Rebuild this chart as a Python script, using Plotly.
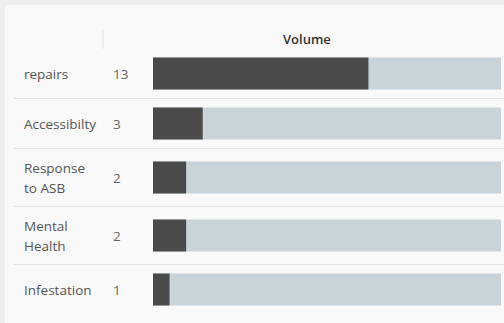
import plotly.graph_objects as go

# ---- data ----
categories = ["repairs", "Accessibilty", "Response<br>to ASB", "Mental<br>Health", "Infestation"]
volumes = [13, 3, 2, 2, 1]
track_total = 21
header = "Volume"

# ---- layout helpers (pixels) ----
W, H = 504, 323
plot_left, plot_right = 153, 501
plot_top, plot_bottom = 48, 316
pw = plot_right - plot_left
ph = plot_bottom - plot_top
line_gap = 20

def px_x(x):
    return (x - plot_left) / pw

def px_y(y):
    return 1 - (y - plot_top) / ph

row_h = [58 if "<br>" in c else 50 for c in categories]
centers, bounds = [], []
acc = 0.5
for h in row_h:
    centers.append(acc + h / 2)
    acc += h
    bounds.append(acc)

dark = "#4a4a4a"
light = "#c9d3da"
font = "Open Sans"

fig = go.Figure()
fig.add_trace(go.Bar(x=[track_total] * len(categories), y=centers, orientation="h",
                     width=32, marker=dict(color=light, line=dict(width=0)), hoverinfo="skip"))
fig.add_trace(go.Bar(x=volumes, y=centers, orientation="h",
                     width=32, marker=dict(color=dark, line=dict(width=0)), hoverinfo="skip"))

shapes = [
    dict(type="rect", xref="paper", yref="paper", x0=px_x(5), x1=px_x(510), y0=px_y(5), y1=px_y(330),
         fillcolor="#f9f9f9", line=dict(width=0), layer="below"),
    dict(type="line", xref="paper", yref="paper", x0=px_x(103), x1=px_x(103), y0=px_y(30), y1=px_y(49),
         line=dict(color="#e6e6e6", width=1)),
]
for b in bounds[:-1]:
    shapes.append(dict(type="line", xref="paper", yref="y", x0=px_x(14), x1=px_x(505), y0=b, y1=b,
                       line=dict(color="#e3e3e3", width=1), layer="below"))

annotations = [dict(text=header, xref="paper", yref="paper", x=px_x(307), y=px_y(39),
                    xanchor="center", yanchor="middle", showarrow=False,
                    font=dict(family=font, size=13, color="#333333", weight=600))]
for c, v, yc in zip(categories, volumes, centers):
    lines = c.split("<br>")
    n = len(lines)
    for i, ln in enumerate(lines):
        annotations.append(dict(text=ln, xref="paper", yref="y", x=px_x(22),
                                y=yc + (i - (n - 1) / 2) * line_gap, xanchor="left",
                                yanchor="middle", align="left", showarrow=False,
                                font=dict(family=font, size=13.5, color="#555555")))
    annotations.append(dict(text=str(v), xref="paper", yref="y", x=px_x(111), y=yc, xanchor="left",
                            yanchor="middle", showarrow=False,
                            font=dict(family=font, size=13.5, color="#666666")))

fig.update_layout(
    width=W, height=H,
    margin=dict(l=plot_left, r=W - plot_right, t=plot_top, b=H - plot_bottom, pad=0),
    paper_bgcolor="#eeeeee", plot_bgcolor="rgba(0,0,0,0)",
    barmode="overlay", showlegend=False,
    xaxis=dict(range=[0, track_total], visible=False, fixedrange=True),
    yaxis=dict(range=[ph, 0], visible=False, fixedrange=True),
    shapes=shapes, annotations=annotations,
)
fig.write_html("out.html", config=dict(displayModeBar=False),
               post_script="document.body.style.margin='0';document.body.style.overflow='hidden';")
